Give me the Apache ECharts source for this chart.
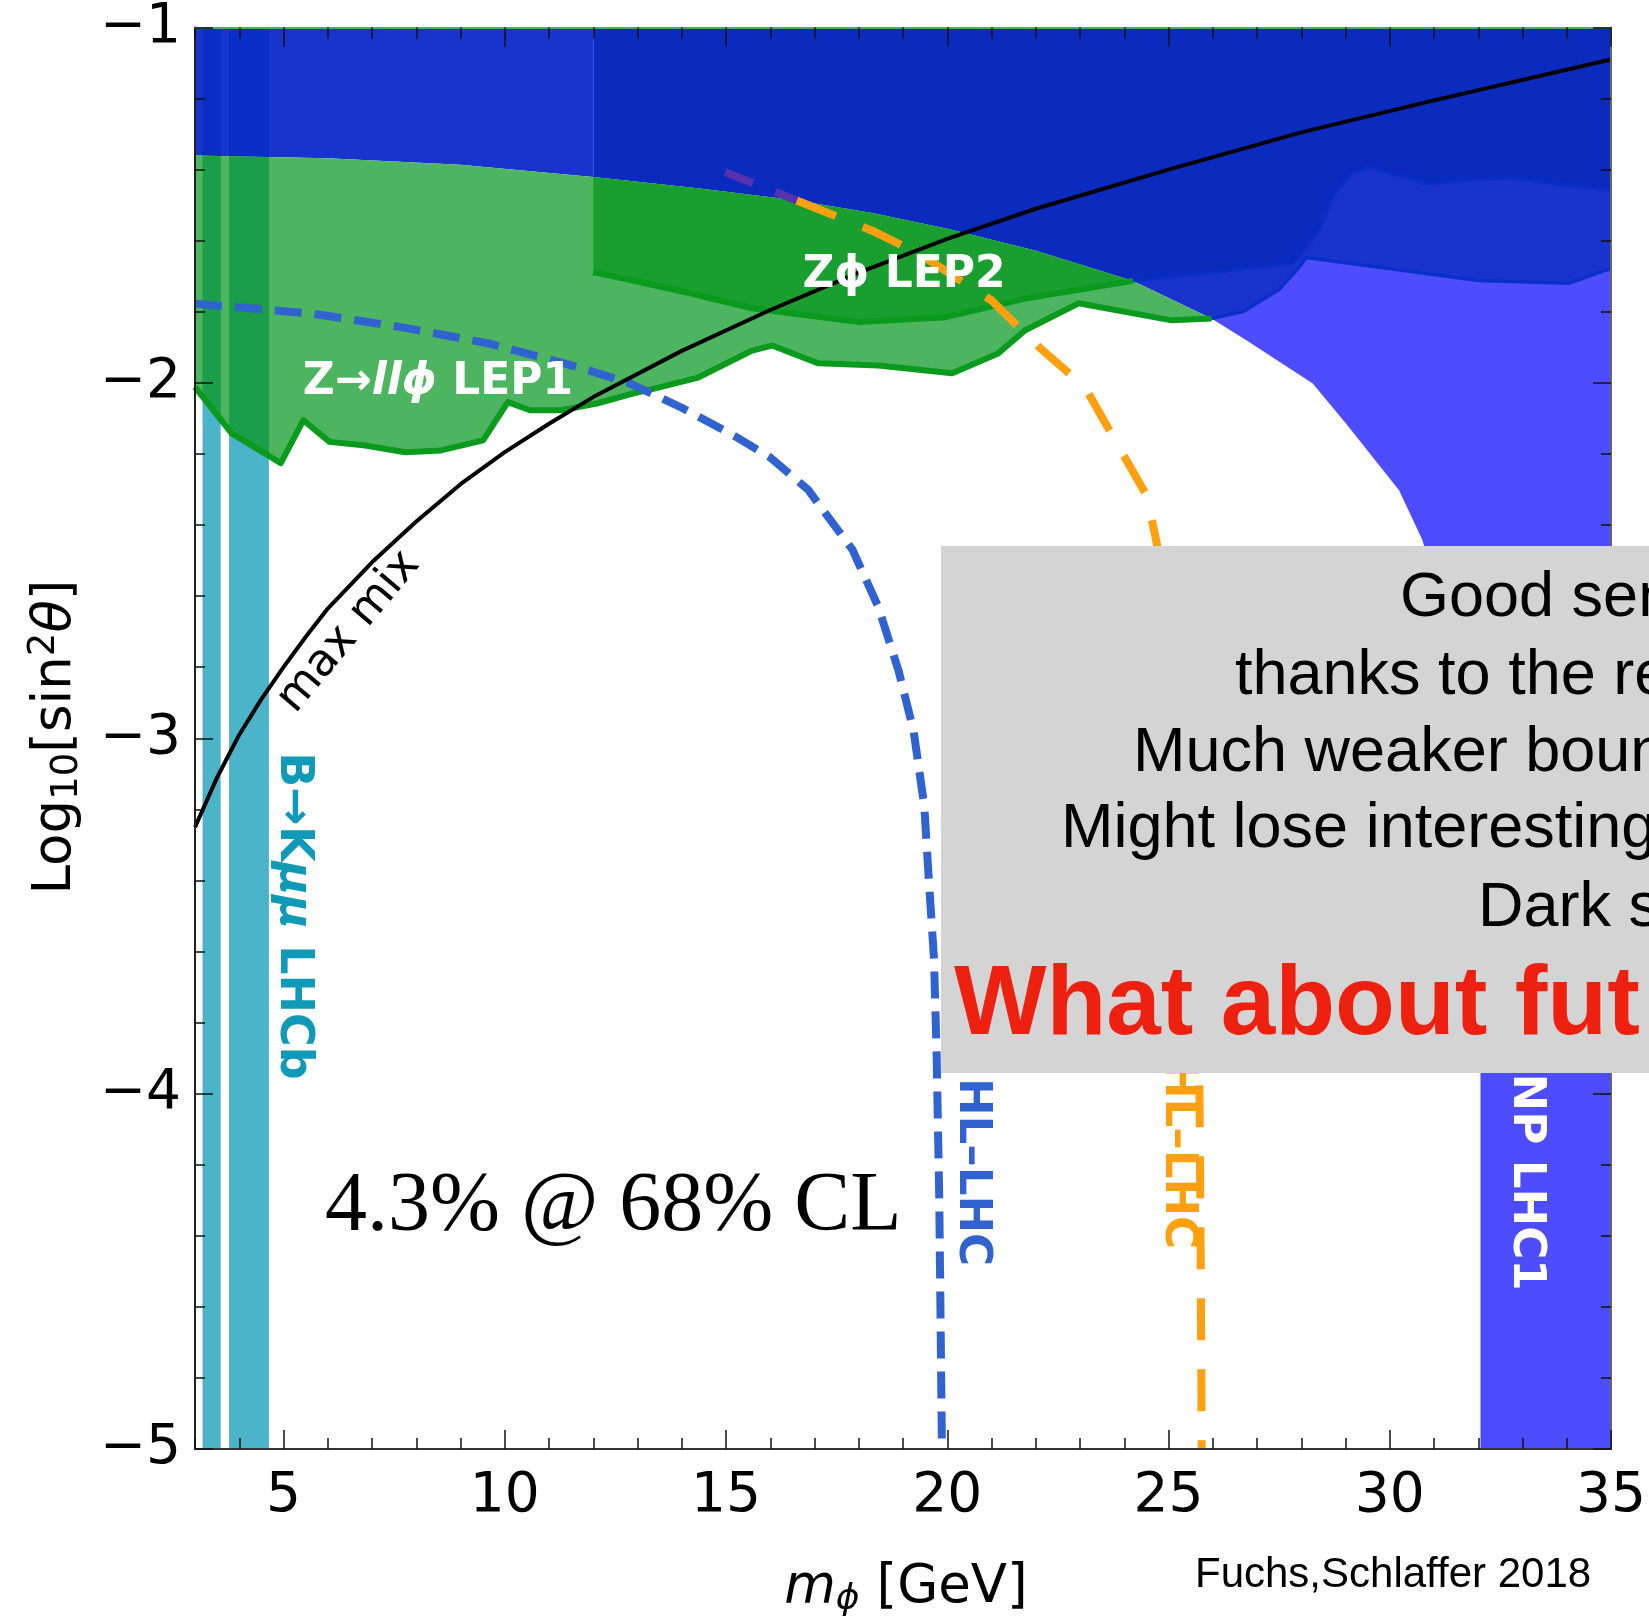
<!DOCTYPE html>
<html>
<head>
<meta charset="utf-8">
<script src="https://cdn.jsdelivr.net/npm/echarts@6/dist/echarts.min.js"></script>
<style>
  html, body { margin: 0; padding: 0; background: #ffffff; }
  #chart { width: 1649px; height: 1617px; }
</style>
</head>
<body>
<div id="chart"></div>
<script>
// ---- axis ticks ----
const xMajorTicks = [5, 10, 15, 20, 25, 30, 35];
const yMajorTicks = [-5, -4, -3, -2, -1];

// ---- exclusion contours (m_phi [GeV], log10 sin^2 theta) ----
// upper edge of the LEP limits, where the LHC (blue) exclusion takes over
const lepUpperEdge = [[3, -1.36], [6, -1.368], [9, -1.386], [12, -1.421], [14.4, -1.453], [16.6, -1.487],
  [18.3, -1.522], [20, -1.566], [22, -1.628], [24.2, -1.713], [25.97, -1.819]];
// lower edge of the Z -> l l phi (LEP1) exclusion
const lep1Lower = [[3.0, -2.012], [3.83, -2.142], [4.94, -2.226], [5.45, -2.105], [6.04, -2.166], [6.85, -2.176],
  [7.75, -2.195], [8.56, -2.19], [9.51, -2.162], [10.07, -2.054], [10.57, -2.077], [11.28, -2.077],
  [12.08, -2.058], [12.89, -2.03], [13.38, -2.016], [14.37, -1.985], [15.59, -1.909], [16.04, -1.895],
  [17.09, -1.945], [18.45, -1.951], [20.11, -1.973], [21.15, -1.917], [21.76, -1.852], [22.97, -1.776],
  [25.07, -1.824], [25.97, -1.819]];
// lower edge of the Z phi (LEP2) exclusion
const lep2Lower = [[12.0, -1.688], [13.92, -1.74], [15.59, -1.79], [18.0, -1.829], [19.96, -1.815],
  [21.76, -1.763], [24.2, -1.713]];
// LHC limits: darkest layer, middle layer, and the NP LHC1 region edge
const lhcDeepLower = [[24.2, -1.713], [27.82, -1.664], [28.41, -1.571], [28.72, -1.473], [29.08, -1.416],
  [29.53, -1.391], [30.81, -1.439], [32.62, -1.422], [35, -1.459]];
const lhcMidLower = [[25.97, -1.819], [26.69, -1.799], [27.5, -1.737], [27.95, -1.675], [28.11, -1.647],
  [32.01, -1.712], [34.04, -1.72], [35, -1.678]];
const npLhc1Edge = [[25.97, -1.819], [26.76, -1.88], [28.26, -2.002], [29.01, -2.114], [30.21, -2.302],
  [30.74, -2.443], [31.2, -2.65], [31.6, -3.0], [31.9, -3.4], [32.05, -3.9], [32.05, -5]];
// B -> K mu mu (LHCb) vetoed mass windows
const lhcbBands = [[3.17, 3.58], [3.77, 4.67]];

// ---- curves ----
const maxMix = [[3, -3.25], [3.25, -3.18], [3.5, -3.11], [3.75, -3.05], [4, -2.99], [4.5, -2.89], [5, -2.80],
  [5.5, -2.715], [6, -2.635], [7, -2.505], [8, -2.39], [9, -2.285], [10, -2.195], [11, -2.115], [12, -2.04],
  [14, -1.91], [16, -1.795], [18, -1.69], [20, -1.595], [22, -1.51], [25, -1.4], [28, -1.295], [31, -1.205],
  [35, -1.09]];
const hlLhcBlue = [[3, -1.777], [5.65, -1.805], [7.66, -1.843], [9.67, -1.89], [11.67, -1.956], [12.8, -2.0],
  [14.0, -2.07], [15.2, -2.15], [16.0, -2.21], [16.85, -2.30], [17.86, -2.47], [18.44, -2.63], [18.9, -2.81],
  [19.24, -2.98], [19.48, -3.19], [19.59, -3.41], [19.7, -3.62], [19.76, -3.89], [19.82, -4.3], [19.88, -5.0]];
const hlLhcOrange = [[16.6, -1.487], [18.29, -1.571], [19.35, -1.636], [21.0, -1.768], [22.07, -1.899],
  [23.11, -2.012], [24.01, -2.209], [24.48, -2.311], [24.64, -2.395], [24.9, -2.55], [25.2, -2.8],
  [25.45, -3.2], [25.6, -3.6], [25.7, -4.0], [25.73, -4.5], [25.75, -5.0]];
const hlLhcOrangeUnderBlue = [[14.98, -1.407], [16.6, -1.487]];

// ---- helpers ----
function interp(curve, x) {
  for (let i = 0; i < curve.length - 1; i++) {
    const a = curve[i], b = curve[i + 1];
    if (x >= a[0] && x <= b[0]) return a[1] + (b[1] - a[1]) * (x - a[0]) / (b[0] - a[0]);
  }
  return x < curve[0][0] ? curve[0][1] : curve[curve.length - 1][1];
}
function sliceCurve(curve, x0, x1) {
  const out = [[x0, interp(curve, x0)]];
  curve.forEach(p => { if (p[0] > x0 && p[0] < x1) out.push(p); });
  out.push([x1, interp(curve, x1)]);
  return out;
}
function area(name, pts, fill, z) {
  return {
    type: 'custom', name: name, z: z, silent: true,
    coordinateSystem: 'cartesian2d', xAxisIndex: 0, yAxisIndex: 0,
    data: [[pts[0][0], pts[0][1]]],
    renderItem: function (params, api) {
      return { type: 'polygon', shape: { points: pts.map(p => api.coord(p)) }, style: { fill: fill } };
    }
  };
}
function curve(name, pts, color, width, dash, z) {
  return {
    type: 'line', name: name, z: z, data: pts, xAxisIndex: 0, yAxisIndex: 0,
    showSymbol: false, symbol: 'none', silent: true, animation: false, smooth: false,
    lineStyle: { color: color, width: width, type: dash || 'solid', cap: 'butt', join: 'round' }
  };
}

// ---- polygons ----
const npLhc1Area = npLhc1Edge.concat([[35, -5], [35, -1], [25.97, -1]]);
const lhcMidArea = sliceCurve(lepUpperEdge, 24.2, 25.97).concat(lhcMidLower.slice(1), [[35, -1], [24.2, -1]]);
const lhcDeepArea = sliceCurve(lepUpperEdge, 12, 24.2).concat(lhcDeepLower.slice(1), [[35, -1], [12, -1]]);
const lhcLeftArea = sliceCurve(lepUpperEdge, 3, 12).concat([[12, -1], [3, -1]]);
const lep1Area = lepUpperEdge.concat(lep1Lower.slice().reverse());
const lep2Area = sliceCurve(lepUpperEdge, 12, 24.2).concat(lep2Lower.slice().reverse());

const series = [
  area('NP LHC1', npLhc1Area, '#4d4dff', 1),
  area('LHC mid', lhcMidArea, '#1934cc', 2),
  area('LHC deep', lhcDeepArea, '#0a2bbd', 3),
  area('LHC low mass', lhcLeftArea, '#1934cc', 3),
  area('LEP1', lep1Area, '#4db560', 5),
  area('LEP2', lep2Area, '#1a9e30', 6)
];
lhcbBands.forEach((b, i) => {
  const top = sliceCurve(lepUpperEdge, b[0], b[1]);
  const low = sliceCurve(lep1Lower, b[0], b[1]);
  series.push(area('LHCb blue ' + i, top.concat([[b[1], -1], [b[0], -1]]), '#0a2ec6', 4));
  series.push(area('LHCb green ' + i, low.concat(top.slice().reverse()), '#1a9e4a', 6));
  series.push(area('LHCb ' + i, [[b[0], -5], [b[1], -5]].concat(low.slice().reverse()), '#4bb4c8', 4));
});
series.push(curve('LHC deep edge', lhcDeepLower, '#0a2fc4', 3.5, 'solid', 7));
series.push(curve('LHC mid edge', lhcMidLower, '#0a30c8', 3.5, 'solid', 7));
series.push(curve('LEP1 edge', lep1Lower, '#0a9a1e', 6, 'solid', 7));
series.push(curve('LEP2 edge', lep2Lower, '#0a9a1e', 6, 'solid', 7));
series.push(curve('HL-LHC blue', hlLhcBlue, '#3163d0', 8, [27, 13], 8));
series.push(curve('HL-LHC orange', hlLhcOrange, '#ffa010', 8, [42, 29], 8));
series.push(curve('HL-LHC orange (under LHC)', hlLhcOrangeUnderBlue, '#5532b0', 8, [30, 24], 8));
series.push(curve('max mix', maxMix, '#000000', 4, 'solid', 9));

const axisFont = 'DejaVu Sans';
const tickStyle = { color: '#111', width: 1.5 };
function xAxisDef(pos, major, labels) {
  return {
    type: 'value', min: 3, max: 35, position: pos, interval: 1, z: 20,
    axisLine: { show: !major, onZero: false, lineStyle: { color: pos === 'top' ? '#4cb050' : '#333', width: 2 } },
    axisTick: major ? { inside: true, length: 19, customValues: xMajorTicks, lineStyle: tickStyle }
                    : { inside: true, length: 11, lineStyle: tickStyle },
    axisLabel: labels ? { show: true, customValues: xMajorTicks, fontSize: 55, fontFamily: axisFont, color: '#000', margin: 20 }
                      : { show: false },
    splitLine: { show: false }
  };
}
function yAxisDef(pos, labels) {
  return {
    type: 'value', min: -5, max: -1, interval: 1, position: pos, z: 20,
    axisLine: { show: true, onZero: false, lineStyle: { color: pos === 'left' ? '#222' : '#666', width: 2 } },
    axisTick: { inside: true, length: 18, lineStyle: tickStyle },
    minorTick: { show: true, splitNumber: 5, length: 10, lineStyle: tickStyle },
    axisLabel: labels ? { show: true, fontSize: 55, fontFamily: axisFont, color: '#000', margin: 14,
                          formatter: v => '\u2212' + Math.abs(v) }
                      : { show: false },
    splitLine: { show: false }
  };
}

const boldFont = 'DejaVu Sans';
const boxFont = 'Liberation Sans';
function label(text, x, y, size, color, opts) {
  opts = opts || {};
  return {
    type: 'text', x: x, y: y, rotation: opts.rotation || 0, z: opts.z || 50, silent: true,
    style: {
      text: text, fill: color, align: opts.align || 'center', verticalAlign: 'middle',
      fontSize: size, fontFamily: opts.family || boldFont, fontWeight: opts.weight || 'bold',
      fontStyle: opts.style || 'normal', rich: opts.rich
    }
  };
}
const deg = Math.PI / 180;

const graphics = [
  // annotations inside the frame
  label('{a|Z\u2192}{i|ll\u03d5}{a| LEP1}', 438, 383, 44, '#ffffff', {
    rich: { a: { fontSize: 44, fontWeight: 'bold', fontFamily: boldFont, fill: '#fff' },
            i: { fontSize: 44, fontWeight: 'bold', fontStyle: 'italic', fontFamily: boldFont, fill: '#fff' } } }),
  label('{i|Z\u03d5}{a| LEP2}', 904, 276, 44, '#ffffff', {
    rich: { a: { fontSize: 44, fontWeight: 'bold', fontFamily: boldFont, fill: '#fff' },
            i: { fontSize: 44, fontWeight: 'bold', fontFamily: boldFont, fill: '#fff' } } }),
  label('max mix', 349, 632, 45, '#000000', { weight: 'normal', rotation: 50 * deg }),
  label('{a|B\u2192K}{i|\u03bc\u03bc}{a| LHCb}', 293, 916, 46, '#1199b8', {
    rotation: -90 * deg,
    rich: { a: { fontSize: 46, fontWeight: 'bold', fontFamily: boldFont, fill: '#1199b8' },
            i: { fontSize: 46, fontWeight: 'bold', fontStyle: 'italic', fontFamily: boldFont, fill: '#1199b8' } } }),
  label('HL\u2013LHC', 972, 1172, 45, '#3163d0', { rotation: -90 * deg }),
  label('HL\u2013LHC', 1178, 1155, 45, '#ffa010', { rotation: -90 * deg }),
  label('NP LHC1', 1526, 1182, 45, '#ffffff', { rotation: -90 * deg }),
  label('4.3% @ 68% CL', 325, 1208, 84, '#000000', { align: 'left', family: 'Liberation Serif', weight: 'normal' }),
  // summary box
  { type: 'rect', z: 60, silent: true, shape: { x: 941, y: 546, width: 720, height: 527 }, style: { fill: '#d4d4d4' } },
  label('Good sen', 1400, 599, 63, '#000', { align: 'left', family: boxFont, weight: 'normal', z: 61 }),
  label('thanks to the re', 1235, 677, 63, '#000', { align: 'left', family: boxFont, weight: 'normal', z: 61 }),
  label('Much weaker boun', 1133, 754, 63, '#000', { align: 'left', family: boxFont, weight: 'normal', z: 61 }),
  label('Might lose interesting', 1061, 830, 63, '#000', { align: 'left', family: boxFont, weight: 'normal', z: 61 }),
  label('Dark s', 1478, 909, 63, '#000', { align: 'left', family: boxFont, weight: 'normal', z: 61 }),
  label('What about fut', 954, 1007, 98, '#ee2010', { align: 'left', family: boxFont, weight: 'bold', z: 61 }),
  // axis titles and credit
  label('{n|Log}{s|10}{n|[sin}{p|2}{t|\u03b8}{n|]}', 56, 737, 53, '#000', {
    rotation: 90 * deg, weight: 'normal',
    rich: { n: { fontSize: 53, fontFamily: axisFont, lineHeight: 60, fill: '#000' },
            s: { fontSize: 37, fontFamily: axisFont, lineHeight: 28, verticalAlign: 'bottom', fill: '#000' },
            p: { fontSize: 37, fontFamily: axisFont, lineHeight: 28, verticalAlign: 'top', fill: '#000' },
            t: { fontSize: 53, fontFamily: axisFont, fontStyle: 'italic', lineHeight: 60, fill: '#000' } } }),
  label('{i|m}{s|\u03d5}{n| [GeV]}', 906, 1588, 53, '#000', {
    weight: 'normal',
    rich: { i: { fontSize: 53, fontFamily: axisFont, fontStyle: 'italic', lineHeight: 60, fill: '#000' },
            s: { fontSize: 36, fontFamily: axisFont, fontStyle: 'italic', lineHeight: 28, verticalAlign: 'bottom', fill: '#000' },
            n: { fontSize: 53, fontFamily: axisFont, lineHeight: 60, fill: '#000' } } }),
  label('Fuchs,Schlaffer 2018', 1195, 1575, 42, '#000', { align: 'left', family: boxFont, weight: 'normal' })
];

const chart = echarts.init(document.getElementById('chart'), null, { renderer: 'canvas' });
chart.setOption({
  animation: false,
  backgroundColor: '#ffffff',
  grid: { left: 195, top: 27, width: 1421, height: 1422, containLabel: false },
  xAxis: [xAxisDef('bottom', false, false), xAxisDef('bottom', true, true),
          xAxisDef('top', false, false), xAxisDef('top', true, false)],
  yAxis: [yAxisDef('left', true), yAxisDef('right', false)],
  series: series,
  graphic: { elements: graphics }
});
</script>
</body>
</html>
